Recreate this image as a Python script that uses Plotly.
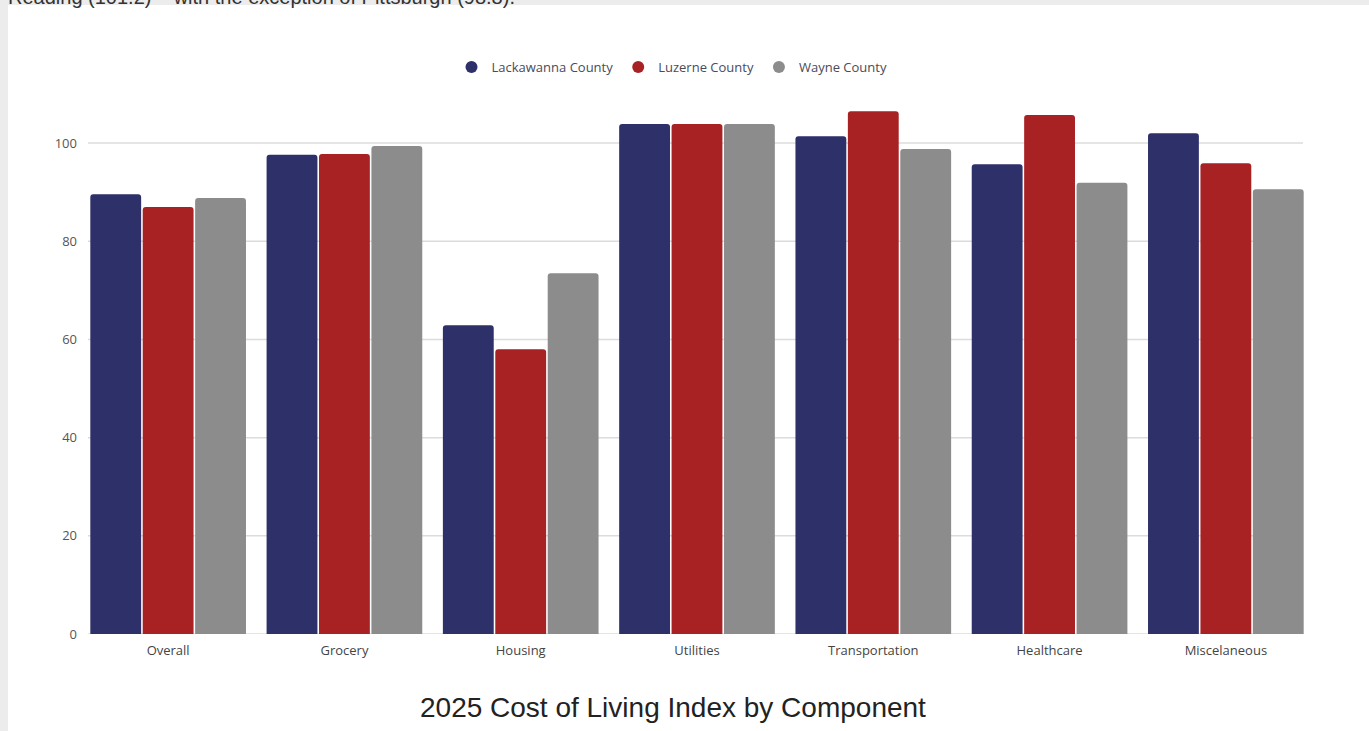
import plotly.graph_objects as go

categories = ["Overall", "Grocery", "Housing", "Utilities", "Transportation", "Healthcare", "Miscelaneous"]
lackawanna = [89.6, 97.6, 62.9, 103.9, 101.4, 95.7, 102.0]
luzerne = [87.0, 97.8, 58.0, 103.9, 106.5, 105.7, 95.9]
wayne = [88.8, 99.4, 73.5, 103.9, 98.8, 91.9, 90.6]
series_names = ["Lackawanna County", "Luzerne County", "Wayne County"]
colors = ["#2e3069", "#a82224", "#8c8c8c"]
y_ticks = [0, 20, 40, 60, 80, 100]
title_text = "2025 Cost of Living Index by Component"
top_text = "Reading (101.2) – with the exception of Pittsburgh (98.8)."

W, H = 1369, 731
L, R, T, B = 80, 55, 94, 97
pw, ph = W - L - R, H - T - B

def px_x(x):
    return (x - L) / pw

def px_y(y):
    return (H - B - y) / ph

fig = go.Figure()
for name, vals, c in zip(series_names, [lackawanna, luzerne, wayne], colors):
    fig.add_trace(go.Bar(x=categories, y=vals, name=name, marker=dict(color=c, line=dict(width=0)),
                         showlegend=False, hoverinfo="x+y+name"))
for name, c in zip(series_names, colors):
    fig.add_trace(go.Scatter(x=[None], y=[None], mode="markers", name=name,
                             marker=dict(color=c, size=13, symbol="circle")))

grid_shapes = [dict(type="line", xref="paper", yref="y", layer="below",
                    x0=px_x(88), x1=px_x(1303), y0=v, y1=v,
                    line=dict(color="#dcdcdc", width=1.5)) for v in y_ticks]

fig.update_layout(
    width=W, height=H,
    margin=dict(l=L, r=R, t=T, b=B, pad=0),
    paper_bgcolor="#ececec",
    plot_bgcolor="rgba(0,0,0,0)",
    barmode="group", bargap=0.108, bargroupgap=0.03, barcornerradius=3,
    font=dict(family="Open Sans, sans-serif", size=13, color="#444"),
    legend=dict(orientation="h", x=px_x(672), xanchor="center", y=px_y(67), yanchor="middle",
                font=dict(family="Open Sans, sans-serif", size=13, color="#4a4a5a"),
                itemsizing="constant", itemwidth=30, bgcolor="rgba(0,0,0,0)"),
    xaxis=dict(showgrid=False, showline=False, ticks="", tickfont=dict(size=13, color="#444"),
               ticklabelstandoff=7, fixedrange=True),
    yaxis=dict(range=[0, 110], tickvals=y_ticks, showgrid=False,
               zeroline=False, showline=False, ticks="",
               tickfont=dict(size=13, color="#555"), ticklabelstandoff=2),
    shapes=[dict(type="rect", xref="paper", yref="paper", layer="below",
                 x0=px_x(8), x1=px_x(W + 5), y0=px_y(H + 5), y1=px_y(5),
                 fillcolor="white", line=dict(width=0))] + grid_shapes,
    annotations=[
        dict(text=title_text, xref="paper", yref="paper", x=px_x(673), y=px_y(707),
             xanchor="center", yanchor="middle", showarrow=False,
             font=dict(family="Liberation Sans, Arial, sans-serif", size=28, color="#222")),
        dict(text=top_text, xref="paper", yref="paper", x=px_x(6), y=px_y(10),
             xanchor="left", yanchor="bottom", showarrow=False,
             font=dict(family="Liberation Sans, Arial, sans-serif", size=20, color="#333")),
    ],
)

fig.write_html("out.html", config={"displayModeBar": False})
